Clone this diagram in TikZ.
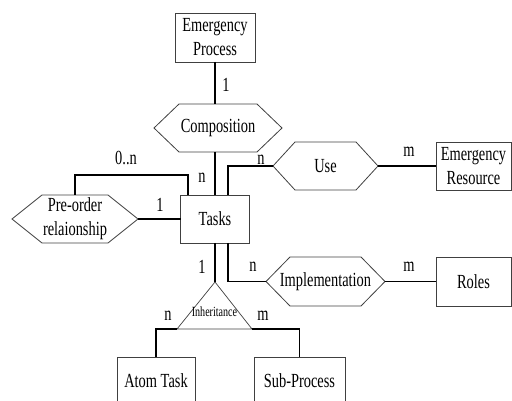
\documentclass[tikz,border=0pt]{standalone}
\usepackage{fontspec}
\setmainfont{Liberation Serif}[FakeStretch=0.72]
\tikzset{
  box/.style={draw=black!75,line width=0.8pt,inner sep=0pt,outer sep=0pt,align=center,
    font=\fontsize{20}{24}\selectfont},
  rel/.style={inner sep=0pt,outer sep=0pt,align=center,font=\fontsize{20}{24}\selectfont},
  lab/.style={inner sep=0pt,font=\fontsize{20}{24}\selectfont},
  conn/.style={line width=1.3pt}
}
\begin{document}
\begin{tikzpicture}[x=1pt,y=-1pt]
\useasboundingbox (0,0) rectangle (512,401);
% entities
\node[box,minimum width=80pt,minimum height=49pt] (EP) at (215,37.5) {Emergency\\Process};
\node[box,minimum width=69pt,minimum height=48pt] (T) at (215,219) {Tasks};
\node[box,minimum width=75pt,minimum height=48pt] (ER) at (473.5,166) {Emergency\\Resource};
\node[box,minimum width=75pt,minimum height=49pt] (R) at (473.5,281.5) {Roles};
\node[box,minimum width=78pt,minimum height=48pt] (AT) at (156,381) {Atom Task};
\node[box,minimum width=91pt,minimum height=48pt] (SP) at (299.5,381) {Sub-Process};
% relationships
\node[rel,minimum width=128pt,minimum height=48pt] (Comp) at (218,128) {Composition};
\node[rel,minimum width=105pt,minimum height=48pt] (Use) at (325.5,166) {Use};
\node[rel,minimum width=119pt,minimum height=49pt] (Impl) at (325.5,281.5) {Implementation};
\node[rel,minimum width=126pt,minimum height=48pt] (Pre) at (75,219) {Pre-order\\relaionship};
\foreach \h/\c in {Comp/25,Use/22,Impl/24,Pre/30} {
  \draw[draw=black!75,line width=0.8pt] (\h.west) -- ([xshift=\c pt]\h.north west)
    -- ([xshift=-\c pt]\h.north east) -- (\h.east)
    -- ([xshift=-\c pt]\h.south east) -- ([xshift=\c pt]\h.south west) -- cycle;
}
% inheritance
\coordinate (Itop) at (215,282);
\coordinate (Ileft) at (177,329);
\coordinate (Iright) at (252,329);
\draw[draw=black!75,line width=0.7pt] (Itop) -- (Ileft) -- (Iright) -- cycle;
\node[inner sep=0pt,font=\fontsize{14}{16}\selectfont] (Inh) at (214.5,312) {Inheritance};
% connectors
\draw[conn] (EP.south) -- (EP.south |- Comp.north);
\draw[conn] (Comp.south -| T.north) -- (T.north);
\draw[conn] (Pre.north) -- ++(0,-20) -| ([xshift=-27pt]T.north);
\draw[conn] ([xshift=13pt]T.north) |- (Use.west);
\draw[conn] ([xshift=13pt]T.south) |- (Impl.west);
\draw[conn] (T.south) -- (Itop);
\draw[conn] (Ileft) -| (AT.north);
\draw[conn] (Iright) -| (SP.north);
\foreach \i/\j in {Pre/T,Use/ER,Impl/R} {
  \draw[conn] (\i.east) -- (\j.west);
}
% cardinalities
\node[lab] (c1) at (226,85) {1};
\node[lab] (c2) at (202,178) {n};
\node[lab] (c3) at (126,158) {0..n};
\node[lab] (c4) at (160,205) {1};
\node[lab] (c5) at (261,160) {n};
\node[lab] (c6) at (409,152) {m};
\node[lab] (c7) at (253,267) {n};
\node[lab] (c8) at (409,267) {m};
\node[lab] (c9) at (202,267) {1};
\node[lab] (c10) at (168,316) {n};
\node[lab] (c11) at (263,316) {m};
\end{tikzpicture}
\end{document}
